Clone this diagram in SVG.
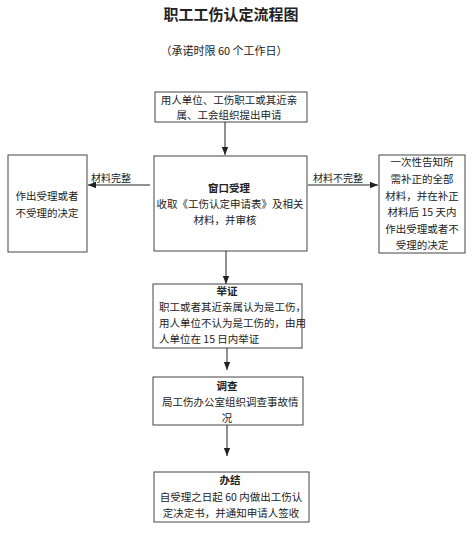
<svg xmlns="http://www.w3.org/2000/svg" width="475" height="535" viewBox="0 0 475 535">
<style>
text{font-family:"Noto Sans CJK SC","Liberation Sans",sans-serif;fill:#222;font-size:10.5px}
.box{fill:#fff;stroke:#444;stroke-width:1}
.c{text-anchor:middle}
.b{font-weight:bold}
.con{stroke:#222;stroke-width:1;fill:none}
.lbl{font-size:10px}
</style>
<defs>
<marker id="ah" viewBox="0 0 8 8" refX="8" refY="4" markerWidth="8" markerHeight="8" markerUnits="userSpaceOnUse" orient="auto">
<path d="M0,0.8 L8,4 L0,7.2 Z" fill="#222"/>
</marker>
</defs>
<rect width="475" height="535" fill="#fff"/>
<text x="231" y="20" class="c b" style="font-size:15px">职工工伤认定流程图</text>
<text x="224" y="55" class="c" style="font-size:11px">（承诺时限 60 个工作日）</text>

<g id="apply">
<rect class="box" x="155" y="92" width="152" height="30"/>
<text x="229" y="104" class="c">用人单位、工伤职工或其近亲</text>
<text x="229" y="119" class="c">属、工会组织提出申请</text>
</g>
<g id="window">
<rect class="box" x="154" y="156" width="153" height="95"/>
<text x="229" y="192" class="c b">窗口受理</text>
<text x="230" y="208" class="c">收取《工伤认定申请表》及相关</text>
<text x="225" y="224" class="c">材料，并审核</text>
</g>
<g id="accept">
<rect class="box" x="8" y="155" width="79" height="97"/>
<text x="47" y="200" class="c">作出受理或者</text>
<text x="47" y="217" class="c">不受理的决定</text>
</g>
<g id="notify">
<rect class="box" x="379" y="155" width="86" height="98"/>
<text x="422" y="166" class="c">一次性告知所</text>
<text x="422" y="183" class="c">需补正的全部</text>
<text x="422" y="200" class="c">材料，并在补正</text>
<text x="422" y="216" class="c">材料后 15 天内</text>
<text x="422" y="233" class="c">作出受理或者不</text>
<text x="422" y="249" class="c">受理的决定</text>
</g>
<g id="evidence">
<rect class="box" x="153" y="284" width="149" height="64"/>
<text x="227" y="295" class="c b">举证</text>
<text x="159" y="311">职工或者其近亲属认为是工伤，</text>
<text x="159" y="327">用人单位不认为是工伤的，由用</text>
<text x="159" y="343">人单位在 15 日内举证</text>
</g>
<g id="investigate">
<rect class="box" x="153" y="377" width="150" height="48"/>
<text x="227" y="390" class="c b">调查</text>
<text x="162" y="406">局工伤办公室组织调查事故情</text>
<text x="227" y="422" class="c">况</text>
</g>
<g id="conclude">
<rect class="box" x="154" y="472" width="155" height="50"/>
<text x="230" y="484" class="c b">办结</text>
<text x="231" y="501" class="c">自受理之日起 60 内做出工伤认</text>
<text x="231" y="517" class="c">定决定书，并通知申请人签收</text>
</g>

<g id="connectors">
<line class="con" x1="225" y1="122" x2="225" y2="155" marker-end="url(#ah)"/>
<line class="con" x1="150" y1="185" x2="88" y2="185" marker-end="url(#ah)"/>
<line class="con" x1="308" y1="185" x2="378" y2="185" marker-end="url(#ah)"/>
<line class="con" x1="226" y1="251" x2="226" y2="284" marker-end="url(#ah)"/>
<line class="con" x1="227" y1="348" x2="227" y2="370" marker-end="url(#ah)"/>
<line class="con" x1="227" y1="425" x2="227" y2="456" marker-end="url(#ah)"/>
<text x="111" y="182" class="c lbl">材料完整</text>
<text x="338" y="182" class="c lbl">材料不完整</text>
</g>
</svg>
